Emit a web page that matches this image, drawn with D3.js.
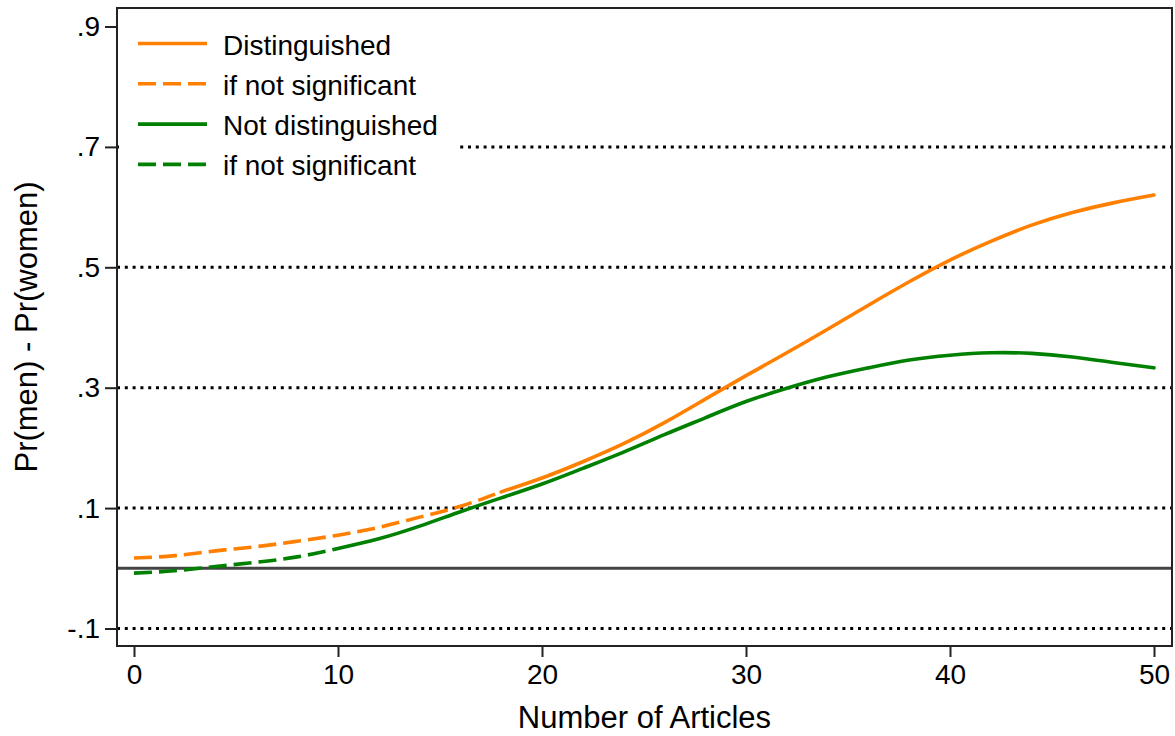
<!DOCTYPE html>
<html>
<head>
<meta charset="utf-8">
<script src="https://cdn.jsdelivr.net/npm/d3@7"></script>
<style>
  html, body { margin: 0; padding: 0; background: #fff; }
  svg { display: block; font-family: "Liberation Sans", Arial, Helvetica, sans-serif; }
</style>
</head>
<body>
<svg id="chart" width="1175" height="736"></svg>
<script>
// data
const articles = [0, 2, 4, 6, 8, 10, 12, 14, 16, 18, 20, 22, 24, 26, 28, 30, 32, 34, 36, 38, 40, 42, 44, 46, 48, 50];
const distinguished = [0.017, 0.021, 0.029, 0.036, 0.045, 0.055, 0.068, 0.085, 0.103, 0.127, 0.150, 0.177, 0.207,
    0.242, 0.281, 0.320, 0.358, 0.397, 0.437, 0.476, 0.512, 0.543, 0.570, 0.591, 0.607, 0.620];
const notDistinguished = [-0.008, -0.004, 0.003, 0.010, 0.019, 0.033, 0.049, 0.070, 0.094, 0.117, 0.140, 0.166, 0.193,
    0.222, 0.250, 0.277, 0.299, 0.318, 0.333, 0.346, 0.354, 0.358, 0.357, 0.351, 0.342, 0.333];
// significant from this number of articles on
const sigFrom = { distinguished: 18, notDistinguished: 10 };
const xTicks = [0, 10, 20, 30, 40, 50];
const yTicks = [-0.1, 0.1, 0.3, 0.5, 0.7, 0.9];
const yTickLabels = ["-.1", ".1", ".3", ".5", ".7", ".9"];
const gridTicks = [-0.1, 0.1, 0.3, 0.5, 0.7];
const legendLabels = ["Distinguished", "if not significant", "Not distinguished", "if not significant"];

const orange = "#ff7f00";
const green = "#008000";

const svg = d3.select("#chart");
const frame = { left: 117, right: 1172, top: 8, bottom: 646 };

const x = d3.scaleLinear().domain([0, 50]).range([134, 1154]);
const y = d3.scaleLinear().domain([-0.1, 0.9]).range([628.5, 26.5]);

// dotted gridlines
svg.append("g")
    .selectAll("line")
    .data(gridTicks)
    .join("line")
    .attr("x1", frame.left).attr("x2", frame.right)
    .attr("y1", d => y(d)).attr("y2", d => y(d))
    .attr("stroke", "#000")
    .attr("stroke-width", 3)
    .attr("stroke-dasharray", "3,4.8");

// zero line
svg.append("line")
    .attr("x1", frame.left).attr("x2", frame.right)
    .attr("y1", y(0)).attr("y2", y(0))
    .attr("stroke", "#444")
    .attr("stroke-width", 3);

// curves
const line = d3.line()
    .x(d => x(d[0]))
    .y(d => y(d[1]))
    .curve(d3.curveNatural);

function drawSeries(values, cut, color) {
    const pts = articles.map((a, i) => [a, values[i]]);
    svg.append("path")
        .datum(pts.filter(d => d[0] <= cut))
        .attr("fill", "none")
        .attr("stroke", color)
        .attr("stroke-width", 3.6)
        .attr("stroke-dasharray", "18,7")
        .attr("d", line);
    svg.append("path")
        .datum(pts.filter(d => d[0] >= cut))
        .attr("fill", "none")
        .attr("stroke", color)
        .attr("stroke-width", 3.6)
        .attr("stroke-linecap", "round")
        .attr("d", line);
}
drawSeries(notDistinguished, sigFrom.notDistinguished, green);
drawSeries(distinguished, sigFrom.distinguished, orange);

// frame
svg.append("rect")
    .attr("x", frame.left).attr("y", frame.top)
    .attr("width", frame.right - frame.left)
    .attr("height", frame.bottom - frame.top)
    .attr("fill", "none")
    .attr("stroke", "#222")
    .attr("stroke-width", 2);

// y axis
const yAxis = svg.append("g")
    .attr("transform", `translate(${frame.left},0)`)
    .call(d3.axisLeft(y).tickValues(yTicks).tickSize(12).tickPadding(5)
        .tickFormat((d, i) => yTickLabels[i]));
yAxis.select(".domain").remove();
yAxis.selectAll("line").attr("stroke", "#222").attr("stroke-width", 2);
yAxis.selectAll("text").attr("font-size", 28).attr("fill", "#000")
    .attr("font-family", "Liberation Sans, Arial, sans-serif");

// x axis
const xAxis = svg.append("g")
    .attr("transform", `translate(0,${frame.bottom})`)
    .call(d3.axisBottom(x).tickValues(xTicks).tickSize(11).tickPadding(7));
xAxis.select(".domain").remove();
xAxis.selectAll("line").attr("stroke", "#222").attr("stroke-width", 2);
xAxis.selectAll("text").attr("font-size", 28).attr("fill", "#000")
    .attr("font-family", "Liberation Sans, Arial, sans-serif");

// axis titles
svg.append("text")
    .attr("x", (frame.left + frame.right) / 2)
    .attr("y", 728)
    .attr("text-anchor", "middle")
    .attr("font-size", 31)
    .text("Number of Articles");

svg.append("text")
    .attr("transform", `translate(37,${(frame.top + frame.bottom) / 2}) rotate(-90)`)
    .attr("text-anchor", "middle")
    .attr("font-size", 31)
    .text("Pr(men) - Pr(women)");

// legend
const legend = svg.append("g");
legend.append("rect")
    .attr("x", frame.left + 2).attr("y", 18)
    .attr("width", 460 - frame.left - 2).attr("height", 168)
    .attr("fill", "#fff");

const legendStyles = [
    { color: orange, dash: null },
    { color: orange, dash: "18,7" },
    { color: green, dash: null },
    { color: green, dash: "18,7" }
];
legendLabels.forEach((label, i) => {
    const ly = 43.5 + i * 40.3;
    legend.append("line")
        .attr("x1", 138).attr("x2", 207)
        .attr("y1", ly).attr("y2", ly)
        .attr("stroke", legendStyles[i].color)
        .attr("stroke-width", 3.6)
        .attr("stroke-dasharray", legendStyles[i].dash);
    legend.append("text")
        .attr("x", 223)
        .attr("y", ly + 11)
        .attr("font-size", 28)
        .text(label);
});
</script>
</body>
</html>
